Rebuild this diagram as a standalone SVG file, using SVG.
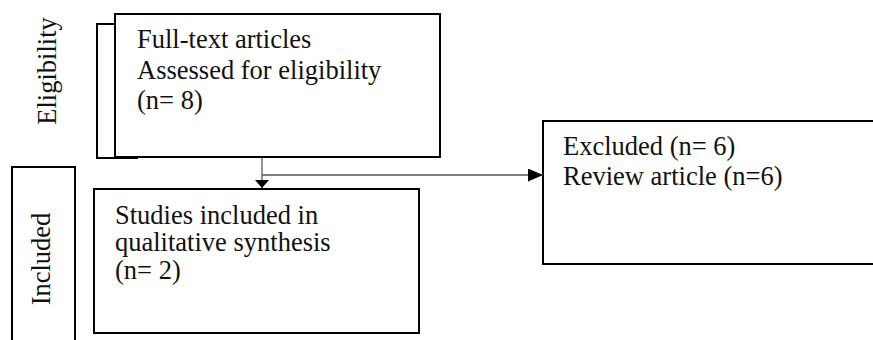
<svg xmlns="http://www.w3.org/2000/svg" width="873" height="340" viewBox="0 0 873 340">
<defs>
<style>
.box{fill:#fff;stroke:#000;stroke-width:2}
.t{font-family:"Liberation Serif","Times New Roman",serif;font-size:26.5px;fill:#111}
.ln{stroke:#7a7a7a;stroke-width:1.6;fill:none}
</style>
<marker id="arrDown" markerWidth="8" markerHeight="14" refX="8" refY="7" orient="auto" markerUnits="userSpaceOnUse" viewBox="0 0 8 14">
<path d="M0,0 L8,7 L0,14 Z" fill="#000"/>
</marker>
<marker id="arrRight" markerWidth="15" markerHeight="13" refX="15" refY="6.5" orient="auto" markerUnits="userSpaceOnUse" viewBox="0 0 15 13">
<path d="M0,0 L15,6.5 L0,13 Z" fill="#000"/>
</marker>
</defs>
<rect width="873" height="340" fill="#fff"/>
<g id="eligibility-label">
<rect class="box" x="97" y="24" width="40" height="134"/>
<text class="t" transform="translate(56,71) rotate(-90)" text-anchor="middle">Eligibility</text>
</g>
<g id="included-label">
<rect class="box" x="12" y="167" width="63" height="200"/>
<text class="t" transform="translate(50,259) rotate(-90)" text-anchor="middle">Included</text>
</g>
<g id="fulltext">
<rect class="box" x="115" y="14" width="325" height="143"/>
<text class="t" x="137" y="48">Full-text articles</text>
<text class="t" x="137" y="79">Assessed for eligibility</text>
<text class="t" x="137" y="109">(n= 8)</text>
</g>
<g id="studies">
<rect class="box" x="94" y="189" width="325" height="144"/>
<text class="t" x="115" y="224">Studies included in</text>
<text class="t" x="115" y="251">qualitative synthesis</text>
<text class="t" x="115" y="279">(n= 2)</text>
</g>
<g id="excluded">
<rect class="box" x="543" y="121" width="345" height="143"/>
<text class="t" x="563" y="155">Excluded (n= 6)</text>
<text class="t" x="563" y="185">Review article (n=6)</text>
</g>
<g id="connectors">
<line class="ln" x1="262" y1="158" x2="262" y2="188" marker-end="url(#arrDown)"/>
<line class="ln" x1="262" y1="175" x2="543" y2="175" marker-end="url(#arrRight)" style="stroke:#555"/>
</g>
</svg>
